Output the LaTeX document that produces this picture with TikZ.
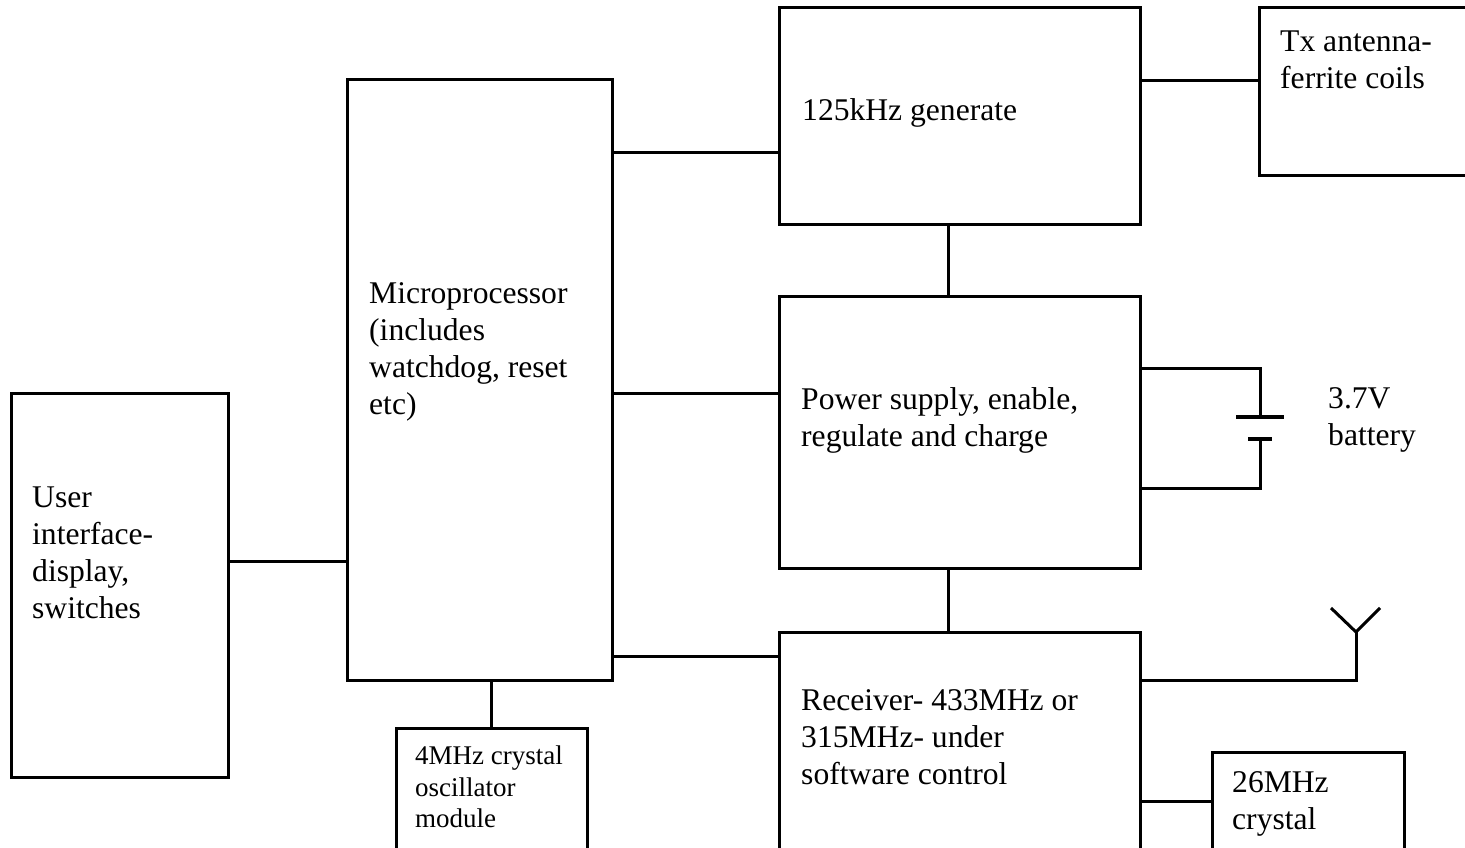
\documentclass[tikz,border=0pt]{standalone}
\usepackage{fontspec}
\setmainfont{Liberation Serif}
\usetikzlibrary{positioning}

\tikzset{
  blk/.style={draw, line width=3pt, rectangle, inner sep=0pt},
  wire/.style={line width=3pt},
  lbl/.style={align=left, anchor=west, inner sep=0pt, font=\fontsize{31.6}{37}\selectfont},
  smalllbl/.style={lbl, font=\fontsize{27}{31.5}\selectfont},
}

\begin{document}
\begin{tikzpicture}[x=1pt, y=-1pt]
  \useasboundingbox (0,0) rectangle (1465,848);
  \clip (0,0) rectangle (1465,848);

  % blocks
  \node[blk, minimum width=217, minimum height=384] (ui) at (119.5,585) {};
  \node[blk, minimum width=265, minimum height=600] (micro) at (479.5,380) {};
  \node[blk, minimum width=191, minimum height=142] (osc) at (491.5,799) {};
  \node[blk, minimum width=361, minimum height=216] (gen) at (959.5,116) {};
  \node[blk, minimum width=231, minimum height=168] (tx) at (1374.5,92) {};
  \node[blk, minimum width=361, minimum height=272] (psu) at (959.5,432) {};
  \node[blk, minimum width=361, minimum height=238] (rx) at (959.5,751) {};
  \node[blk, minimum width=192, minimum height=118] (xtal) at (1308,811) {};

  % texts
  \node[lbl] (ui-txt) at (32,553) {User\\interface-\\display,\\switches};
  \node[lbl] (micro-txt) at (369,352) {Microprocessor\\(includes\\watchdog, reset\\etc)};
  \node[smalllbl] (osc-txt) at (415,787) {4MHz crystal\\oscillator\\module};
  \node[lbl] (gen-txt) at (802,113) {125kHz generate};
  \node[lbl] (tx-txt) at (1280,60) {Tx antenna-\\ferrite coils};
  \node[lbl] (psu-txt) at (801,420) {Power supply, enable,\\regulate and charge};
  \node[lbl] (bat-txt) at (1328,420) {3.7V\\battery};
  \node[lbl] (rx-txt) at (801,737) {Receiver- 433MHz or\\315MHz- under\\software control};
  \node[lbl] (xtal-txt) at (1232,804) {26MHz\\crystal};

  % connections
  \path ([yshift=24pt]ui.east) coordinate (ui-out);
  \draw[wire] (ui-out) -- (ui-out -| micro.west);
  \path ([yshift=-37pt]gen.west) coordinate (gen-in);
  \draw[wire] (gen-in -| micro.east) -- (gen-in);
  \path ([yshift=39pt]psu.west) coordinate (psu-in);
  \draw[wire] (psu-in -| micro.east) -- (psu-in);
  \path ([yshift=95pt]rx.west) coordinate (rx-in);
  \draw[wire] (rx-in -| micro.east) -- (rx-in);
  \draw[wire] (osc.north) -- (osc.north |- micro.south);
  \path ([xshift=-11.5pt]gen.south) coordinate (gen-out);
  \draw[wire] (gen-out) -- (gen-out |- psu.north);
  \path ([xshift=-11.5pt]psu.south) coordinate (psu-out);
  \draw[wire] (psu-out) -- (psu-out |- rx.north);
  \path ([yshift=11pt]tx.west) coordinate (tx-in);
  \draw[wire] (tx-in -| gen.east) -- (tx-in);
  \path ([yshift=10pt]xtal.west) coordinate (xtal-in);
  \draw[wire] (xtal-in -| rx.east) -- (xtal-in);

  % battery
  \coordinate (bat-pos) at (1260,417);
  \coordinate (bat-neg) at (1260,439);
  \path ([yshift=64pt]psu.east) coordinate (psu-p);
  \path ([yshift=-56pt]psu.east) coordinate (psu-n);
  \draw[wire] (psu-p) -| (bat-pos);
  \draw[wire] (psu-n) -| (bat-neg);
  \draw[line width=4.5pt] ([xshift=-24pt]bat-pos) -- ([xshift=24pt]bat-pos);
  \draw[line width=4.5pt] ([xshift=-12pt]bat-neg) -- ([xshift=12pt]bat-neg);

  % antenna
  \coordinate (ant) at (1356,632);
  \path ([yshift=71pt]rx.east) coordinate (rx-out);
  \draw[wire] (rx-out) -| (ant);
  \draw[wire] (1331,608) -- (ant) -- (1380,608);
\end{tikzpicture}
\end{document}
